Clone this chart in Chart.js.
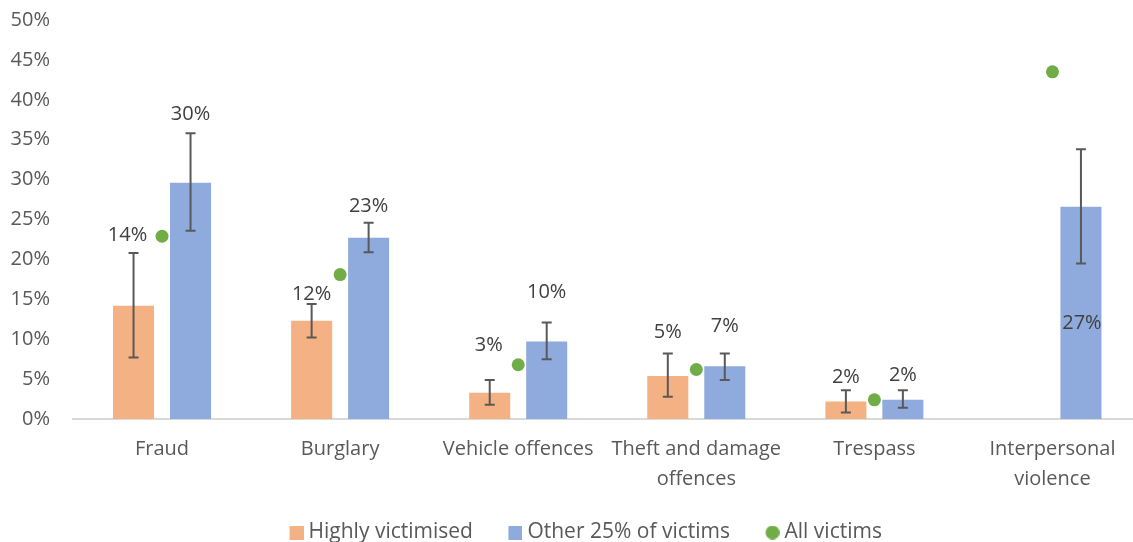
<!DOCTYPE html>
<html>
<head>
<meta charset="utf-8">
<script src="https://cdn.jsdelivr.net/npm/chart.js@4/dist/chart.umd.min.js"></script>
<style>
  html, body { margin: 0; padding: 0; background: #fff; overflow: hidden; }
  #victimGraph { display: block; }
</style>
</head>
<body>
<canvas id="victimGraph" width="1148" height="553"></canvas>
<script>
// chart data -------------------------------------------------------------------------
const categories = ['Fraud', 'Burglary', 'Vehicle offences', ['Theft and damage', 'offences'], 'Trespass', ['Interpersonal', 'violence']];

const highlyVictimised = [14.2, 12.3, 3.3, 5.4, 2.2, null];
const highlyLow = [7.7, 10.2, 1.8, 2.8, 0.8, null];
const highlyHigh = [20.8, 14.4, 4.9, 8.2, 3.6, null];

const otherVictims = [29.6, 22.7, 9.7, 6.6, 2.4, 26.6];
const otherLow = [23.6, 20.9, 7.5, 4.9, 1.4, 19.5];
const otherHigh = [35.8, 24.6, 12.1, 8.2, 3.6, 33.8];

const allVictims = [22.9, 18.1, 6.8, 6.2, 2.4, 43.5];

const yMin = 0;
const yMax = 50;
const yStep = 5;

Chart.defaults.font.family = "'Open Sans', sans-serif";
Chart.defaults.font.size = 20;
Chart.defaults.color = '#595959';

// legend markers: 14px square / dot sitting at the right end of a wider transparent image,
// so the gap to the text stays small while items keep their spacing
function marker(color, round) {
    const c = document.createElement('canvas');
    c.width = 49;
    c.height = 14;
    const g = c.getContext('2d');
    g.fillStyle = color;
    if (round) {
        g.beginPath();
        g.arc(42, 7, 7, 0, Math.PI * 2);
        g.fill();
    } else {
        g.fillRect(35, 0, 14, 14);
    }
    return c;
}
const legendMarkers = [marker('#F4B183'), marker('#8FAADC'), marker('#70AD47', true)];

// error bars + value labels drawn on top of the bars
const errorBarPlugin = {
    id: 'errorBars',
    afterDatasetsDraw(chart, args, opts) {
        const ctx = chart.ctx;
        const y = chart.scales.y;
        ctx.save();
        [0, 1].forEach(function (di) {
            const ds = chart.data.datasets[di];
            const meta = chart.getDatasetMeta(di);
            meta.data.forEach(function (bar, i) {
                if (ds.data[i] == null) return;
                const x = bar.x;
                const top = y.getPixelForValue(ds.errHigh[i]);
                const bottom = y.getPixelForValue(ds.errLow[i]);
                ctx.strokeStyle = '#595959';
                ctx.lineWidth = 2;
                ctx.beginPath();
                ctx.moveTo(x, top);
                ctx.lineTo(x, bottom);
                ctx.moveTo(x - 5, top);
                ctx.lineTo(x + 5, top);
                ctx.moveTo(x - 5, bottom);
                ctx.lineTo(x + 5, bottom);
                ctx.stroke();

                // value label, nudged like the original
                const nudge = opts.nudges[di][i];
                ctx.fillStyle = '#404040';
                ctx.font = "20px 'Open Sans', sans-serif";
                ctx.textAlign = 'center';
                ctx.textBaseline = 'middle';
                ctx.fillText(Math.round(ds.data[i]) + '%', x + nudge[0], top + nudge[1]);
            });
        });
        ctx.restore();
    }
};

const ctx = document.getElementById('victimGraph').getContext('2d');
new Chart(ctx, {
    type: 'bar',
    data: {
        labels: categories,
        datasets: [{
            label: 'Highly victimised',
            data: highlyVictimised,
            errLow: highlyLow,
            errHigh: highlyHigh,
            backgroundColor: '#F4B183',
            categoryPercentage: 0.64,
            barPercentage: 0.72,
            order: 2
        }, {
            label: 'Other 25% of victims',
            data: otherVictims,
            errLow: otherLow,
            errHigh: otherHigh,
            backgroundColor: '#8FAADC',
            categoryPercentage: 0.64,
            barPercentage: 0.72,
            order: 2
        }, {
            type: 'line',
            label: 'All victims',
            data: allVictims,
            showLine: false,
            pointRadius: 6.5,
            pointBorderWidth: 0,
            pointBackgroundColor: '#70AD47',
            borderColor: '#70AD47',
            backgroundColor: '#70AD47',
            order: 1
        }]
    },
    options: {
        responsive: false,
        animation: false,
        layout: {
            padding: { top: 20, right: 6, left: 0, bottom: 0 }
        },
        scales: {
            x: {
                grid: { display: false, drawTicks: false },
                border: { display: true, color: '#D9D9D9', width: 2 },
                afterFit: function (scale) { scale.height = scale.height + 7; },
                ticks: {
                    color: '#595959',
                    padding: 15,
                    maxRotation: 0,
                    autoSkip: false,
                    font: { size: 20, lineHeight: 1.5 }
                }
            },
            y: {
                min: yMin,
                max: yMax,
                grid: { display: false, drawTicks: false },
                border: { display: false },
                afterFit: function (scale) {
                    scale.width = 73;
                    scale.paddingTop = 12;
                    scale.paddingBottom = 12;
                },
                ticks: {
                    stepSize: yStep,
                    padding: 23,
                    color: '#595959',
                    callback: function (v) { return v + '%'; }
                }
            }
        },
        plugins: {
            tooltip: { enabled: false },
            legend: {
                position: 'bottom',
                labels: {
                    usePointStyle: true,
                    pointStyleWidth: 38,
                    boxHeight: 14,
                    padding: 6,
                    color: '#595959',
                    font: { size: 21 },
                    sort: function (a, b) { return a.datasetIndex - b.datasetIndex; },
                    generateLabels: function (chart) {
                        return Chart.defaults.plugins.legend.labels.generateLabels(chart).map(function (item) {
                            item.pointStyle = legendMarkers[item.datasetIndex];
                            return item;
                        });
                    }
                }
            },
            errorBars: {
                nudges: [
                    [[-6, -18], [0, -10], [-1, -35], [0, -21], [0, -13], [0, 0]],
                    [[0, -19], [0, -16], [0, -30], [0, -27], [0, -15], [1, 174]]
                ]
            }
        }
    },
    plugins: [errorBarPlugin]
});
</script>
</body>
</html>
